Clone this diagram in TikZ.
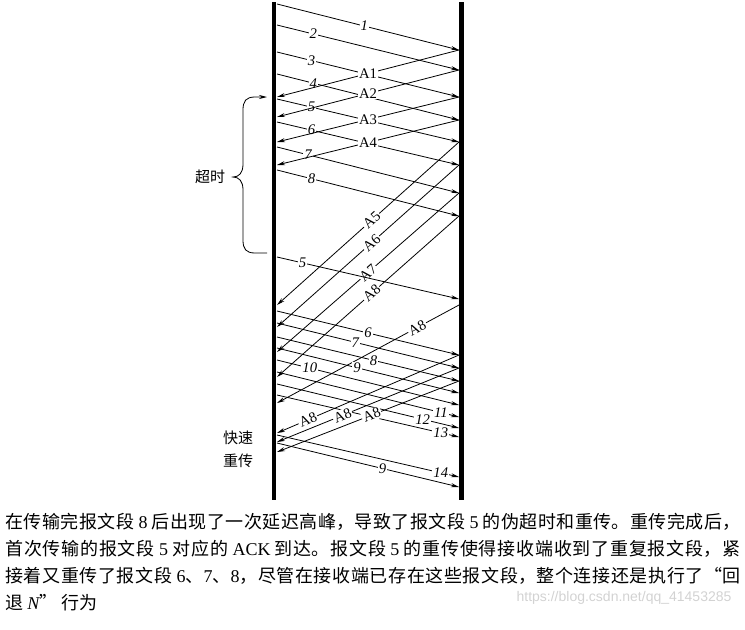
\documentclass[tikz,border=0pt]{standalone}
\usepackage{fontspec}
\setmainfont{Liberation Serif}
\newfontfamily\cjk{Noto Sans CJK SC}
\newfontfamily\wmfont{Liberation Sans}
\usetikzlibrary{arrows.meta,positioning}
\XeTeXlinebreaklocale "zh"
\XeTeXlinebreakskip=0pt plus 3pt

\begin{document}
\begin{tikzpicture}[x=0.75pt, y=-0.75pt,
  host/.style={line width=3.6pt},
  msg/.style={-{Stealth[length=6pt,width=3pt]}, line width=0.6pt},
  seg/.style={fill=white, inner sep=0.8pt, font=\itshape\fontsize{11}{11}\selectfont},
  ack/.style={fill=white, inner sep=0.8pt, font=\fontsize{11}{11}\selectfont},
  note/.style={font=\cjk\fontsize{11.25}{17}\selectfont, inner sep=0pt, align=center}]
  \useasboundingbox (0,0) rectangle (745,629);
  % the two ends
  \coordinate (Ltop) at (274,2);  \coordinate (Lbot) at (274,500);
  \coordinate (Rtop) at (461.5,2); \coordinate (Rbot) at (461.5,500);
  \draw[host] (Ltop) -- (Lbot);
  \draw[host] (Rtop) -- (Rbot);
  % first window
  \coordinate (s1) at (277,4);   \coordinate (r1) at (459,50);
  \coordinate (s2) at (277,25);  \coordinate (r2) at (459,70);
  \coordinate (s3) at (277,52);  \coordinate (r3) at (459,97);
  \coordinate (s4) at (277,74);  \coordinate (r4) at (459,120);
  \coordinate (s5) at (277,99);  \coordinate (r5) at (459,142);
  \coordinate (s6) at (277,122); \coordinate (r6) at (459,165);
  \coordinate (s7) at (277,147); \coordinate (r7) at (459,193);
  \coordinate (s8) at (277,170); \coordinate (r8) at (459,216);
  \coordinate (a1) at (277,97);  \coordinate (a2) at (277,117);
  \coordinate (a3) at (277,142); \coordinate (a4) at (277,165);
  \draw[msg] (s1) -- node[seg, pos=.48] (n1) {1} (r1);
  \draw[msg] (s2) -- node[seg, pos=.2] (n2) {2} (r2);
  \draw[msg] (s3) -- node[seg, pos=.19] (n3) {3} (r3);
  \draw[msg] (s4) -- node[seg, pos=.2] (n4) {4} (r4);
  \draw[msg] (s5) -- node[seg, pos=.19] (n5) {5} (r5);
  \draw[msg] (s6) -- node[seg, pos=.19] (n6) {6} (r6);
  \draw[msg] (s7) -- node[seg, pos=.17] (n7) {7} (r7);
  \draw[msg] (s8) -- node[seg, pos=.19] (n8) {8} (r8);
  \draw[msg] (r1) -- node[ack, pos=.5] (k1) {A1} (a1);
  \draw[msg] (r2) -- node[ack, pos=.5] (k2) {A2} (a2);
  \draw[msg] (r3) -- node[ack, pos=.5] (k3) {A3} (a3);
  \draw[msg] (r4) -- node[ack, pos=.5] (k4) {A4} (a4);
  % delayed acks
  \coordinate (a5) at (277,305); \coordinate (a6) at (277,327);
  \coordinate (a7) at (277,352); \coordinate (a8) at (277,377);
  \draw[msg] (r5) -- node[ack, sloped, pos=.48] (k5) {A5} (a5);
  \draw[msg] (r6) -- node[ack, sloped, pos=.48] (k6) {A6} (a6);
  \draw[msg] (r7) -- node[ack, sloped, pos=.5] (k7) {A7} (a7);
  \draw[msg] (r8) -- node[ack, sloped, pos=.48] (k8) {A8} (a8);
  % spurious timeout
  \coordinate (t5) at (277,257); \coordinate (u5) at (459,299);
  \coordinate (u5a) at (459,305); \coordinate (b0) at (277,403);
  \draw[msg] (t5) -- node[seg, pos=.14] (m5) {5} (u5);
  \draw[msg] (u5a) -- node[ack, sloped, pos=.23] (j0) {A8} (b0);
  % go back N
  \coordinate (t6) at (277,311);  \coordinate (u6) at (459,355);
  \coordinate (t7) at (277,323);  \coordinate (u7) at (459,368);
  \coordinate (t8) at (277,337);  \coordinate (u8) at (459,381);
  \coordinate (t9) at (277,348);  \coordinate (u9) at (459,393);
  \coordinate (t10) at (277,360); \coordinate (u10) at (459,405);
  \coordinate (t11) at (277,372); \coordinate (u11) at (459,417);
  \coordinate (t12) at (277,384); \coordinate (u12) at (459,428);
  \coordinate (t13) at (277,395); \coordinate (u13) at (459,437);
  \draw[msg] (t6) -- node[seg, pos=.5] (m6) {6} (u6);
  \draw[msg] (t7) -- node[seg, pos=.43] (m7) {7} (u7);
  \draw[msg] (t8) -- node[seg, pos=.53] (m8) {8} (u8);
  \draw[msg] (t9) -- node[seg, pos=.44] (m9) {9} (u9);
  \draw[msg] (t10) -- node[seg, pos=.18] (m10) {10} (u10);
  \draw[msg] (t11) -- node[seg, pos=.9] (m11) {11} (u11);
  \draw[msg] (t12) -- node[seg, pos=.8] (m12) {12} (u12);
  \draw[msg] (t13) -- node[seg, pos=.9] (m13) {13} (u13);
  % duplicate acks
  \coordinate (b1) at (277,433); \coordinate (b2) at (277,442);
  \coordinate (b3) at (277,452);
  \draw[msg] (u6) -- node[ack, sloped, pos=.83] (j1) {A8} (b1);
  \draw[msg] (u7) -- node[ack, sloped, pos=.64] (j2) {A8} (b2);
  \draw[msg] (u8) -- node[ack, sloped, pos=.48] (j3) {A8} (b3);
  % fast retransmit
  \coordinate (t14) at (277,435); \coordinate (u14) at (459,477);
  \coordinate (f9) at (277,443);  \coordinate (v9) at (459,487);
  \draw[msg] (t14) -- node[seg, pos=.9] (m14) {14} (u14);
  \draw[msg] (f9) -- node[seg, pos=.58] (w9) {9} (v9);
  % timeout brace
  \coordinate (toA) at (267,97); \coordinate (toB) at (267,253);
  \draw[msg] (toB) -- (255,253) .. controls (246,253) and (243,249) .. (243,240)
    -- (243,190) .. controls (243,181) and (239,177) .. (233,177)
    .. controls (239,177) and (243,173) .. (243,164)
    -- (243,110) .. controls (243,101) and (246,97) .. (255,97) -- (toA);
  \node[note] (tmo) at (210,177) {超时};
  \node[note] (frt) at (238,449) {快速\\重传};
  % caption
  \node[anchor=north west, inner sep=0pt, text width=551.25pt, align=justify,
    font=\cjk\fontsize{13.5}{20.25}\selectfont] (cap) at (5,513)
    {\tolerance=9999 在传输完报文段 {\rmfamily 8} 后出现了一次延迟高峰，导致了报文段 {\rmfamily 5} 的伪超时和重传。重传完成后，\linebreak
     首次传输的报文段 {\rmfamily 5} 对应的 {\rmfamily ACK} 到达。报文段 {\rmfamily 5} 的重传使得接收端收到了重复报文段，紧\linebreak
     接着又重传了报文段 {\rmfamily 6}、{\rmfamily 7}、{\rmfamily 8}，尽管在接收端已存在这些报文段，整个连接还是执行了“回\linebreak
     退 {\rmfamily\itshape N}” 行为};
  \node[text=gray!35, font=\wmfont\fontsize{10.5}{10.5}\selectfont, inner sep=0pt] (wm) at (624,598)
    {https://blog.csdn.net/qq\_41453285};
\end{tikzpicture}
\end{document}
